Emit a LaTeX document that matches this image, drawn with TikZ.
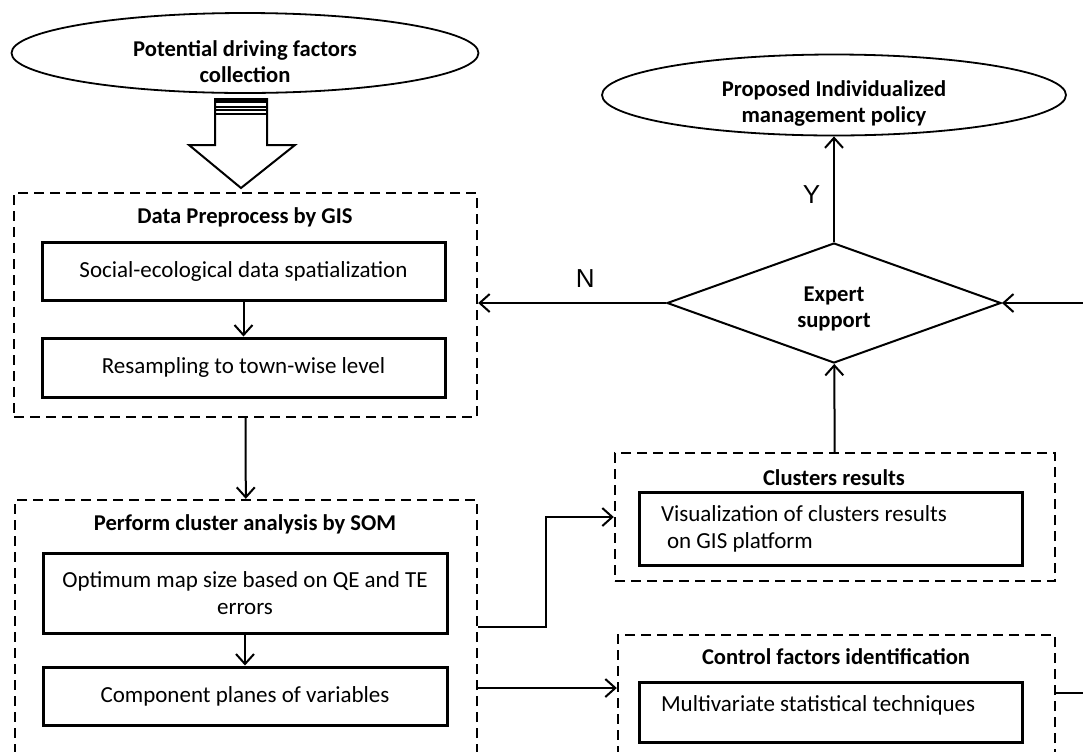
\documentclass[tikz,border=0pt]{standalone}
\usepackage{fontspec}
\setmainfont{Carlito}
\newfontfamily\yesnofont{Liberation Sans}
\usetikzlibrary{shapes.geometric,arrows.meta}

\begin{document}
\begin{tikzpicture}[x=0.5pt,y=-0.5pt,
  every node/.style={align=center,font=\fontsize{11.5}{13.5}\selectfont},
  arr/.style={line width=1pt,-{Straight Barb[length=5pt,width=9pt]}},
  oval/.style={ellipse,draw,line width=0.9pt,inner sep=0pt},
  group/.style={draw,dashed,line width=1.2pt,dash pattern=on 5pt off 3pt,inner sep=0pt},
  stepbox/.style={draw,line width=1.5pt,inner sep=0pt},
  title/.style={font=\bfseries\fontsize{11.3}{13}\selectfont},
  yn/.style={font=\yesnofont\fontsize{13}{15}\selectfont}
]
\useasboundingbox (0,0) rectangle (1083,751);
\clip (0,0) rectangle (1083,751);

% start and end
\node[oval,minimum width=233.5pt,minimum height=40pt] (collect) at (245,53) {};
\node[title] (collecttxt) at (245,62) {Potential driving factors\\collection};
\node[oval,minimum width=232pt,minimum height=40.5pt] (policy) at (834,95) {};
\node[title] (policytxt) at (834,103) {Proposed Individualized\\management policy};

% big hollow arrow
\draw[line width=1pt] (215,98) -- (215,145) -- (189,145) -- (241,188) -- (295,145) -- (267,145) -- (267,98);
\fill (215,98) rectangle (267,103);
\foreach \yy in {107,110,114}
  \draw[line width=0.8pt] (215,\yy) -- (267,\yy);

% data preprocess
\node[group,minimum width=231.5pt,minimum height=112pt] (prep) at (245.5,305) {};
\node[title] (preptitle) at (245,217) {Data Preprocess by GIS};
\node[stepbox,minimum width=201.5pt,minimum height=29pt] (spat) at (243.5,271) {Social-ecological data spatialization};
\node[stepbox,minimum width=201.5pt,minimum height=29.5pt] (resamp) at (243.5,367.5) {Resampling to town-wise level};

% SOM
\node[group,minimum width=231pt,minimum height=160pt] (som) at (246,660) {};
\node[title] (somtitle) at (245,524) {Perform cluster analysis by SOM};
\node[stepbox,minimum width=202pt,minimum height=40pt] (optim) at (245,593) {Optimum map size based on QE and TE\\errors};
\node[stepbox,minimum width=202pt,minimum height=29pt] (comp) at (245,696) {Component planes of variables};

% decision
\node[diamond,draw,line width=1pt,inner sep=0pt,aspect=2.8,minimum width=167pt,minimum height=60pt] (expert) at (834,303) {};
\node[title] (experttxt) at (834,309) {Expert\\support};

% clusters results
\node[group,minimum width=220pt,minimum height=64pt] (clus) at (835,517) {};
\node[title] (clustitle) at (834,478) {Clusters results};
\node[stepbox,minimum width=191.5pt,minimum height=36.5pt] (vis) at (830.5,528.5) {};
\node[anchor=west,align=left] (vistxt) at (654,528.5) {Visualization of clusters results\\ \hspace*{3pt}on GIS platform};

% control factors
\node[group,minimum width=218.5pt,minimum height=107.5pt] (ctrl) at (836.5,742.5) {};
\node[title] (ctrltitle) at (836,657) {Control factors identification};
\node[stepbox,minimum width=191.5pt,minimum height=30pt] (multi) at (830.5,712) {};
\node[anchor=west] (multitxt) at (654,705) {Multivariate statistical techniques};

% connectors
\draw[arr] (spat) -- (resamp);
\draw[arr] (optim) -- (comp);
\draw[arr] (prep) -- (som);
\draw[arr] (som.east |- 0,627) -| (546,517) -- (clus.west |- 0,517);
\draw[arr] (som.east |- 0,688) -- (ctrl.west |- 0,688);
\draw[arr] (ctrl.east |- 0,693) -- (1100,693) |- (expert.east);
\draw[arr] (clus) -- (expert);
\draw[arr] (expert) -- node[pos=0.45,left=3pt,yn] (ylab) {Y} (policy);
\draw[arr] (expert) -- node[pos=0.43,above=4pt,yn] (nlab) {N} (prep.east |- expert);
\end{tikzpicture}
\end{document}
